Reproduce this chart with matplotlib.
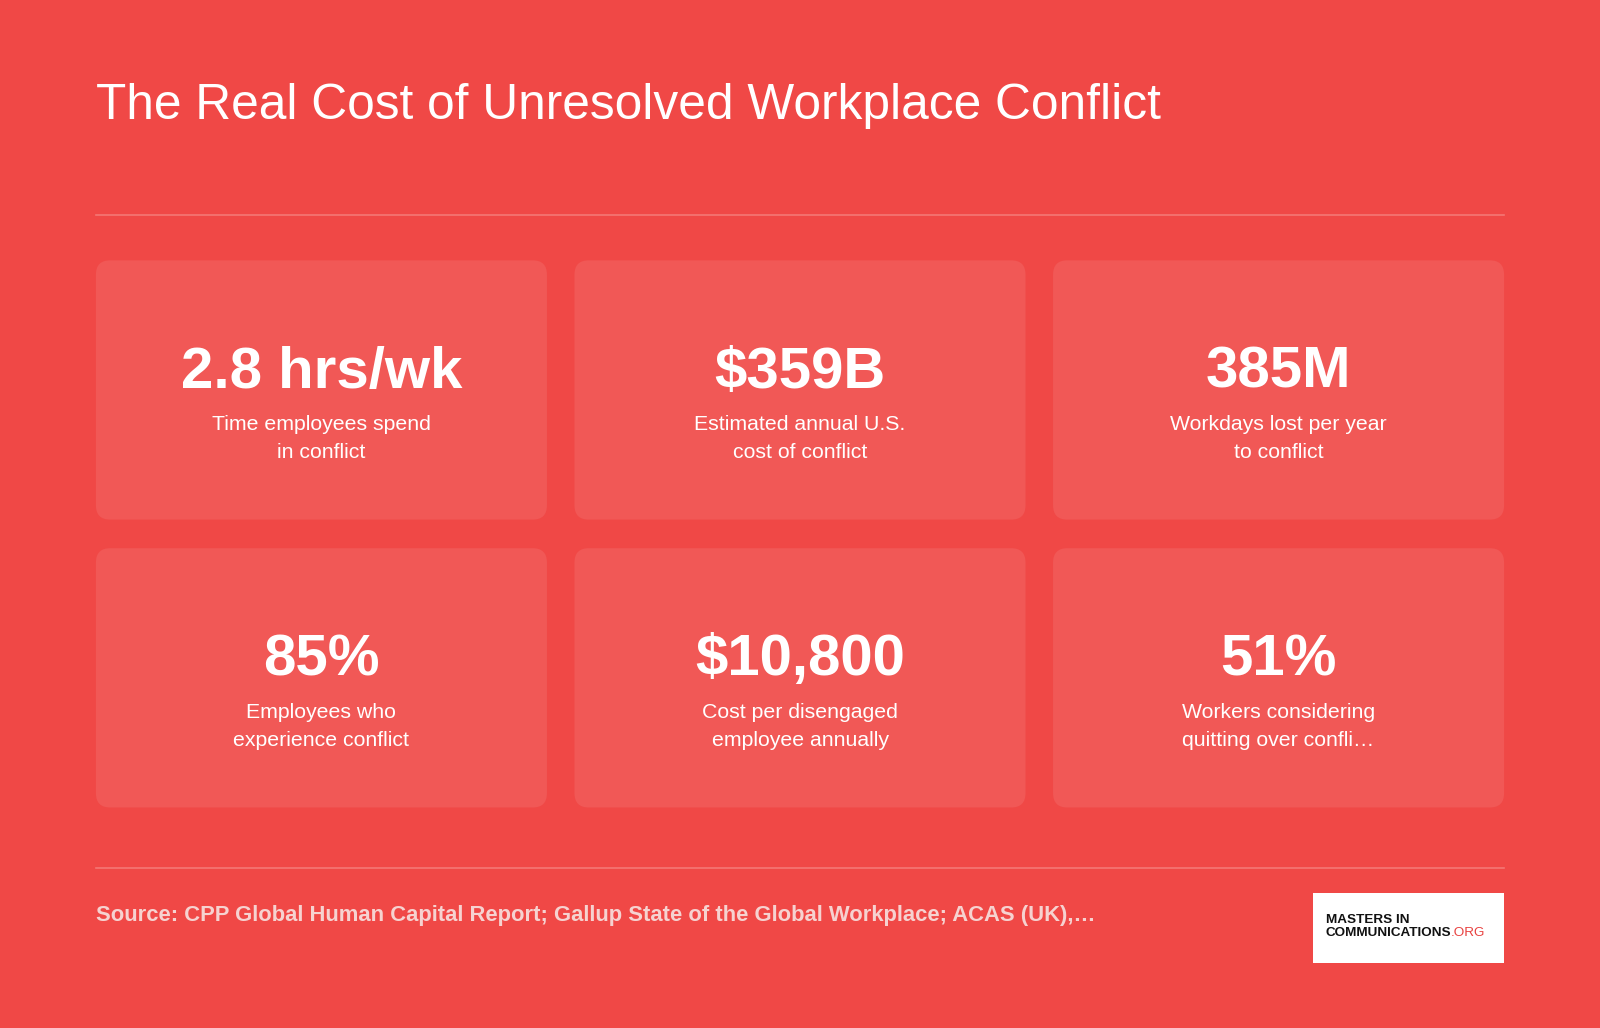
import matplotlib
matplotlib.use("Agg")
import matplotlib.pyplot as plt
from matplotlib.patches import FancyBboxPatch, Rectangle

title = "The Real Cost of Unresolved Workplace Conflict"
values = ["2.8 hrs/wk", "$359B", "385M", "85%", "$10,800", "51%"]
labels = ["Time employees spend\nin conflict", "Estimated annual U.S.\ncost of conflict",
          "Workdays lost per year\nto conflict", "Employees who\nexperience conflict",
          "Cost per disengaged\nemployee annually", "Workers considering\nquitting over confli…"]
source = "Source: CPP Global Human Capital Report; Gallup State of the Global Workplace; ACAS (UK),…"

BG = "#F04846"; CARD = "#F15856"; LINE = "#F47774"
plt.rcParams['font.family'] = ['Liberation Sans', 'DejaVu Sans']
fig = plt.figure(figsize=(16, 10.28), dpi=100, facecolor=BG)
ax = fig.add_axes([0, 0, 1, 1]); ax.set_xlim(0, 1568); ax.set_ylim(1007, 0); ax.axis('off')
S = 1.02
ax.text(94, 104, title, fontsize=35*S, color='white', va='center', ha='left')
ax.plot([94, 1474], [211, 211], color=LINE, lw=1.2)
ax.plot([94, 1474], [850, 850], color=LINE, lw=1.2)
xs = [94, 563, 1032]; ys = [255, 537]; w, h = 442, 254
for i, (v, l) in enumerate(zip(values, labels)):
    x = xs[i % 3]; y = ys[i // 3]
    ax.add_patch(FancyBboxPatch((x+14, y+14), w-28, h-28, boxstyle="round,pad=14",
                                fc=CARD, ec='none'))
    cx = x + w/2
    ax.text(cx, y+110, v, fontsize=41*S, fontweight='bold', color='white', ha='center', va='center')
    ax.text(cx, y+175, l, fontsize=15*S, color='white', ha='center', va='center', linespacing=1.6)
ax.text(94, 897, source, fontsize=15.5*S, fontweight='bold', color='#F6D2D0', ha='left', va='center')
ax.add_patch(Rectangle((1287, 875), 187, 68, fc='white', ec='none'))
ax.text(1299, 901, "MASTERS IN", fontsize=9.5*S, fontweight='bold', color='#111111', va='center')
t = ax.text(1299, 914, "COMMUNICATIONS", fontsize=9.5*S, fontweight='bold', color='#111111', va='center')
fig.canvas.draw()
bb = t.get_window_extent().transformed(ax.transData.inverted())
ax.text(bb.x1, 914, ".ORG", fontsize=9.5*S, color='#E8403E', va='center')
fig.savefig("out.png", dpi=100, facecolor=BG)
